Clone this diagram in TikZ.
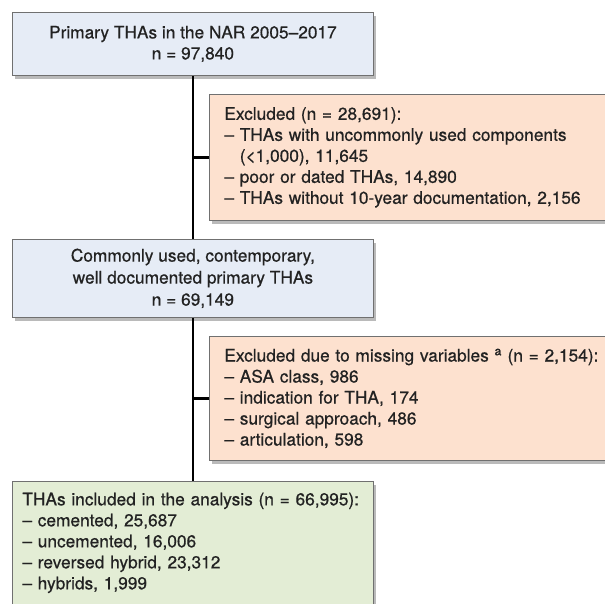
\documentclass[tikz,border=0pt]{standalone}
\usepackage{fontspec}
\setmainfont{TeX Gyre Heros}[BoldFont={TeX Gyre Heros},BoldFeatures={FakeBold=0.6}]
\usetikzlibrary{shadows}

\definecolor{boxblue}{HTML}{E6ECF6}
\definecolor{boxorange}{HTML}{FDE1CF}
\definecolor{boxgreen}{HTML}{E3EDD5}
\definecolor{boxline}{HTML}{707070}
\definecolor{textgray}{HTML}{222222}

\begin{document}
\begin{tikzpicture}[x=1pt,y=-1pt,
  flowbox/.style={draw=boxline,line width=0.8pt,anchor=north west,
    text=textgray,font=\fontsize{17.3}{21}\selectfont\bfseries,
    drop shadow={shadow xshift=3pt,shadow yshift=-4pt,fill=black!45,opacity=0.6}},
  mainbox/.style={flowbox,fill=boxblue,align=center,minimum width=361pt},
  exclbox/.style={flowbox,fill=boxorange,align=left,inner xsep=15pt,text width=390pt},
  inclbox/.style={flowbox,fill=boxgreen,align=left,inner xsep=10pt,text width=341pt},
  joint/.style={line width=2.6pt,black}]
\clip (0,0) rectangle (605,603);
\fill[white] (0,0) rectangle (605,603);

\node[mainbox,minimum height=63pt] (prim) at (12,12)
  {Primary THAs in the NAR 2005--2017\\n = 97,840};
\node[exclbox,minimum height=126pt] (exA) at (209,94)
  {Excluded (n = 28,691):\\
   -- THAs with uncommonly used components\\
   \phantom{-- }(<1,000), 11,645\\
   -- poor or dated THAs, 14,890\\
   -- THAs without 10-year documentation, 2,156};
\node[mainbox,minimum height=78pt] (used) at (12,239)
  {Commonly used, contemporary,\\[1pt]well documented primary THAs\\[1pt]n = 69,149};
\node[exclbox,minimum height=124pt] (exB) at (209,336)
  {Excluded due to missing variables~\textsuperscript{a} (n = 2,154):\\
   -- ASA class, 986\\
   -- indication for THA, 174\\
   -- surgical approach, 486\\
   -- articulation, 598};
\node[inclbox,minimum height=123pt] (incl) at (12,481)
  {THAs included in the analysis (n = 66,995):\\
   -- cemented, 25,687\\
   -- uncemented, 16,006\\
   -- reversed hybrid, 23,312\\
   -- hybrids, 1,999};

% connectors
\draw[joint] (prim.south) -- (used.north);
\draw[joint] (used.south) -- (incl.north);
\draw[joint] (exA.west) -- (exA.west -| prim.south);
\draw[joint] (exB.west) -- (exB.west -| used.south);
\end{tikzpicture}
\end{document}
